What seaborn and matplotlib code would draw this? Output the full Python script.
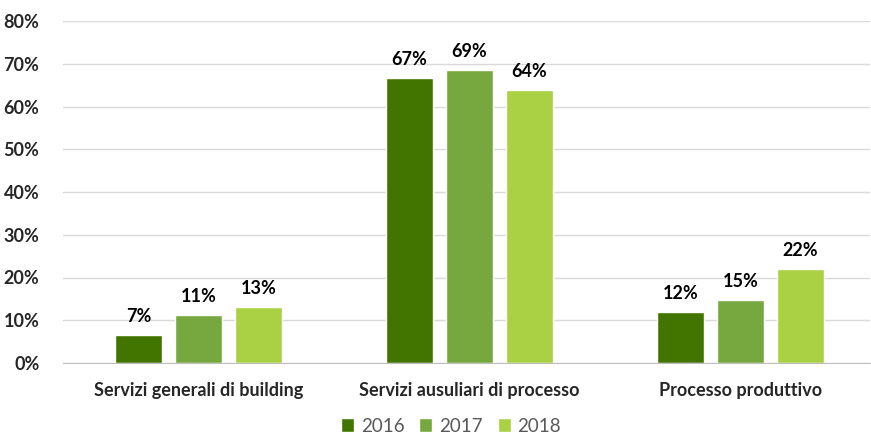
import matplotlib
matplotlib.use("Agg")
import matplotlib.pyplot as plt
import seaborn as sns
import pandas as pd
from matplotlib.ticker import FixedLocator

categories = ["Servizi generali di building", "Servizi ausuliari di processo", "Processo produttivo"]
years = ["2016", "2017", "2018"]
v2016 = [6.6, 66.7, 11.9]
v2017 = [11.2, 68.6, 14.7]
v2018 = [13.1, 63.9, 22.0]
yticks = [0, 10, 20, 30, 40, 50, 60, 70, 80]
colors = ["#427500", "#76A83F", "#A9D143"]

rows = []
for y, vals in zip(years, [v2016, v2017, v2018]):
    for c, v in zip(categories, vals):
        rows.append({"cat": c, "year": y, "val": v})
df = pd.DataFrame(rows)

sns.set_style("white")
plt.rcParams["font.family"] = ["Lato", "DejaVu Sans"]

fig = plt.figure(figsize=(8.71, 4.34), dpi=100)
ax = fig.add_axes([63/871, 71/434, 807/871, 342/434])

sns.barplot(data=df, x="cat", y="val", hue="year", palette=colors,
            width=0.664, gap=0.22, ax=ax, legend=True, saturation=1)

for cont in ax.containers:
    ax.bar_label(cont, labels=[f"{b.get_height():.0f}%" for b in cont],
                 padding=7, fontsize=13, fontweight="bold", color="black")

ax.set_ylim(0, 80)
ax.set_xlim(-0.5, -0.5 + 807/271)
ax.set_yticks(yticks)
ax.set_yticklabels([f"{t}%" for t in yticks], fontsize=13, fontweight="bold")
ax.tick_params(axis="y", length=0, pad=17)
ax.tick_params(axis="x", which="major", length=0, pad=14, labelsize=13)
for lab in ax.get_xticklabels():
    lab.set_fontweight("bold")
ax.xaxis.set_minor_locator(FixedLocator([-0.5, 0.5, 1.5, 2.5]))
ax.tick_params(axis="x", which="minor", length=6, color="#bfbfbf", width=1)
ax.set_xlabel("")
ax.set_ylabel("")
ax.yaxis.grid(True, color="#d9d9d9", linewidth=1)
ax.set_axisbelow(True)
for s in ["top", "right", "left"]:
    ax.spines[s].set_visible(False)
ax.spines["bottom"].set_color("#bfbfbf")

handles, labels = ax.get_legend_handles_labels()
ax.legend(handles, labels, loc="center", bbox_to_anchor=(451/871, 8/434),
          bbox_transform=fig.transFigure, ncol=3, frameon=False, borderaxespad=0,
          handlelength=0.7, handleheight=0.7, handletextpad=0.35, columnspacing=0.8,
          fontsize=13.5, labelcolor="#595959")

fig.savefig("out.png", dpi=100)
